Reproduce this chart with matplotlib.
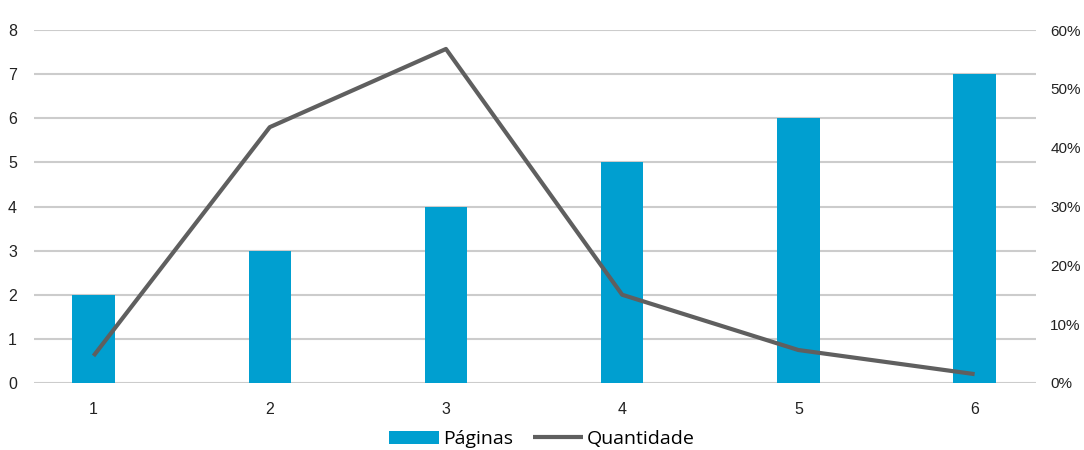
import matplotlib
matplotlib.use('Agg')
import matplotlib.pyplot as plt
import numpy as np
from matplotlib.ticker import PercentFormatter

categories = [1, 2, 3, 4, 5, 6]
paginas = [2, 3, 4, 5, 6, 7]
quantidade = [4.6, 43.5, 56.8, 15.0, 5.6, 1.5]

plt.rcParams['font.family'] = ['Liberation Sans', 'DejaVu Sans']

fig = plt.figure(figsize=(10.84, 4.5), dpi=100)
ax = fig.add_axes([0.031, 0.149, 0.925, 0.784])
ax2 = ax.twinx()

ax.bar(categories, paginas, width=0.24, color='#009fd0', label='Páginas', zorder=2)
ax2.plot(categories, quantidade, color='#5f5f5f', linewidth=3, label='Quantidade',
         solid_capstyle='butt', zorder=3)

ax.set_xlim(0.66, 6.35)
ax.set_ylim(0, 8)
ax2.set_ylim(0, 60)
ax.set_yticks(range(0, 9))
ax2.set_yticks(range(0, 61, 10))
ax2.yaxis.set_major_formatter(PercentFormatter(decimals=0))
ax.set_xticks(categories)

ax.grid(axis='y', color='#cccccc', linewidth=1.5, zorder=0)
ax.set_axisbelow(True)
for a in (ax, ax2):
    for s in a.spines.values():
        s.set_visible(False)
    a.tick_params(length=0, labelsize=11.5, colors='#222222')
ax.tick_params(axis='y', pad=12)
ax.tick_params(axis='x', pad=14)
ax2.tick_params(axis='y', pad=10, labelsize=11)

ax.set_zorder(ax2.get_zorder() - 1)
ax2.patch.set_visible(False)
ax.patch.set_visible(True)

h1, l1 = ax.get_legend_handles_labels()
h2, l2 = ax2.get_legend_handles_labels()
fig.legend(h1 + h2, l1 + l2, loc='lower center', bbox_to_anchor=(0.5, -0.035), ncol=2,
           frameon=False, prop={'family': 'Open Sans', 'size': 14},
           handlelength=2.6, handletextpad=0.2, columnspacing=1.0)

fig.savefig('out.png', dpi=100)
